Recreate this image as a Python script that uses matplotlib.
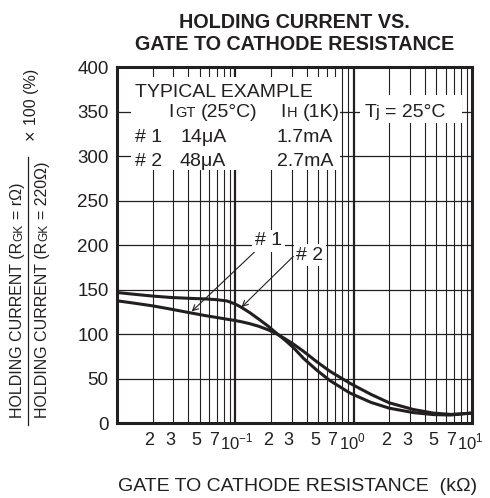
import numpy as np
import matplotlib
matplotlib.use("Agg")
import matplotlib.pyplot as plt
import matplotlib.transforms as mtransforms
from matplotlib.patches import Rectangle
from matplotlib.lines import Line2D

plt.rcParams['font.family'] = ['Liberation Sans', 'DejaVu Sans']
plt.rcParams['mathtext.fontset'] = 'custom'
plt.rcParams['mathtext.rm'] = 'Liberation Sans'

# gate to cathode resistance (kOhm)
r_k = [0.01, 0.014, 0.02, 0.028, 0.04, 0.056, 0.069, 0.085, 0.1, 0.112, 0.132, 0.158,
       0.19, 0.224, 0.263, 0.31, 0.38, 0.49, 0.63, 0.93, 1.4, 2.0, 3.2, 4.7, 6.6, 10]
# holding current ratio (%), sample #1 and #2
ih_1 = [137.7, 135, 132, 128.5, 124.6, 121, 119, 117, 115.5, 114.2, 112, 109,
        105, 100.5, 95, 89, 80.5, 69, 58.5, 45, 32.5, 23, 15.5, 11.5, 10, 11.5]
ih_2 = [147, 145, 143, 141.5, 140.5, 139.8, 139, 137.5, 134, 130.5, 124.5, 117,
        109, 101, 93.5, 85, 72.5, 59.5, 48, 34, 23.5, 17, 12, 9.8, 9.3, 11.5]

xtick_pos = [0.02, 0.03, 0.05, 0.07, 0.1, 0.2, 0.3, 0.5, 0.7, 1, 2, 3, 5, 7, 10]
xtick_lab = ['2', '3', '5', '7', '10$^{-1}$', '2', '3', '5', '7', '10$^{0}$',
             '2', '3', '5', '7', '10$^{1}$']
ytick_pos = list(range(0, 401, 50))

ink = '#231f20'
W, H = 490, 498

fig = plt.figure(figsize=(W / 100, H / 100), dpi=100)
ax = fig.add_axes([117 / W, (H - 423.3) / H, 355 / W, 355.9 / H])
ax.set_xscale('log')
ax.set_xlim(0.01, 10)
ax.set_ylim(0, 400)

#   grid
for d in (0.01, 0.1, 1):
    for m in range(2, 10):
        ax.axvline(m * d, color=ink, lw=0.8, zorder=1)
for d in (0.1, 1):
    ax.axvline(d, color=ink, lw=1.6, zorder=1)
for y in ytick_pos[1:-1]:
    ax.axhline(y, color=ink, lw=0.9, zorder=1)

#   white boxes behind the legend text
ax.add_patch(Rectangle((0.0394, 0.712), 0.5886, 0.261, transform=ax.transAxes,
                       fc='white', ec='none', zorder=2))
ax.add_patch(Rectangle((0.6845, 0.8438), 0.2873, 0.0786, transform=ax.transAxes,
                       fc='white', ec='none', zorder=2))

#   curves
ax.plot(r_k, ih_1, color=ink, lw=2.2, zorder=3, solid_joinstyle='round')
ax.plot(r_k, ih_2, color=ink, lw=2.2, zorder=3, solid_joinstyle='round')

#   curve labels with arrows
ax.annotate('', xy=(0.0428, 125.7), xytext=(0.147, 193.2),
            arrowprops=dict(arrowstyle='->', lw=0.8, color=ink, shrinkA=0, shrinkB=0),
            zorder=4)
ax.annotate('', xy=(0.113, 130.6), xytext=(0.309, 187.6),
            arrowprops=dict(arrowstyle='->', lw=0.8, color=ink, shrinkA=0, shrinkB=0),
            zorder=4)
ax.text(0.19, 205, '# 1', fontsize=14, ha='center', va='center', color=ink, zorder=5,
        bbox=dict(fc='white', ec='none', pad=2))
ax.text(0.428, 189, '# 2', fontsize=14, ha='center', va='center', color=ink, zorder=5,
        bbox=dict(fc='white', ec='none', pad=2))

#   ticks
ax.set_xticks(xtick_pos, xtick_lab)
ax.xaxis.set_minor_locator(matplotlib.ticker.NullLocator())
ax.set_yticks(ytick_pos)
ax.tick_params(axis='both', length=0, colors=ink)
ax.tick_params(axis='x', pad=6, labelsize=13)
ax.tick_params(axis='y', pad=6, labelsize=13.5)
shift = mtransforms.ScaledTranslation(-0.03, 0, fig.dpi_scale_trans)
dec_shift = mtransforms.ScaledTranslation(-0.15, 0, fig.dpi_scale_trans)
for lab, txt in zip(ax.get_xticklabels(), xtick_lab):
    if txt.startswith('10'):
        lab.set_horizontalalignment('left')
        lab.set_fontsize(12)
        lab.set_transform(lab.get_transform() + dec_shift)
    else:
        lab.set_transform(lab.get_transform() + shift)

for s in ax.spines.values():
    s.set_linewidth(2.2)
    s.set_color(ink)
    s.set_zorder(6)

#   title and x label
fig.text(294.5 / W, (H - 28) / H, 'HOLDING CURRENT VS.', ha='center', va='baseline',
         fontsize=14.2, weight='bold', color=ink)
fig.text(294.5 / W, (H - 50) / H, 'GATE TO CATHODE RESISTANCE', ha='center', va='baseline',
         fontsize=14.2, weight='bold', color=ink)
fig.text(298 / W, 7 / H, 'GATE TO CATHODE RESISTANCE  (k\u03a9)', ha='center', va='baseline',
         fontsize=14, color=ink)

#   texts made of pieces (small caps subscripts)
fig.canvas.draw()
renderer = fig.canvas.get_renderer()
ident = mtransforms.IdentityTransform()


def put_parts(px, py, parts, rotation=0):
    for text, size, gap in parts:
        if rotation:
            py += gap
        else:
            px += gap
        t = fig.text(px, py, text, fontsize=size, rotation=rotation, rotation_mode='anchor',
                     ha='left', va='baseline', transform=ident, color=ink, zorder=6)
        bb = t.get_window_extent(renderer)
        if rotation:
            py += bb.height
        else:
            px += bb.width


big = 14
sc = 10.5
sp = 5.5

put_parts(135, H - 96.7, [('TYPICAL EXAMPLE', big, 0)])
put_parts(168, H - 117, [('I', big, 0), ('GT', sc, 1.5), ('(25\u00b0C)', big, sp)])
put_parts(280, H - 117, [('I', big, 0), ('H', sc, 1.5), ('(1K)', big, sp)])
put_parts(365, H - 117, [('T', big, 0), ('j', 12, -1.5), ('= 25\u00b0C', big, sp)])
put_parts(135, H - 141.7, [('# 1', big, 0)])
put_parts(180, H - 141.7, [('14\u03bcA', big, 0)])
put_parts(277, H - 141.7, [('1.7mA', big, 0)])
put_parts(135, H - 166, [('# 2', big, 0)])
put_parts(180, H - 166, [('48\u03bcA', big, 0)])
put_parts(277, H - 166, [('2.7mA', big, 0)])

#   y label as a fraction
yl, ysc, ysp = 11.5, 8.6, 4.5
put_parts(22, H - 418, [('HOLDING CURRENT (R', yl, 0), ('GK', ysc, 1),
                        ('= r\u03a9)', yl, ysp)], rotation=90)
put_parts(47, H - 418, [('HOLDING CURRENT (R', yl, 0), ('GK', ysc, 1),
                        ('= 220\u03a9)', yl, ysp)], rotation=90)
put_parts(36, H - 140, [('\u00d7', 13, 0), ('100 (%)', yl, ysp)], rotation=90)
fig.add_artist(Line2D([28 / W, 28 / W], [(H - 425) / H, (H - 157) / H],
                      transform=fig.transFigure, color=ink, lw=0.9))

fig.savefig('out.png', dpi=100)
